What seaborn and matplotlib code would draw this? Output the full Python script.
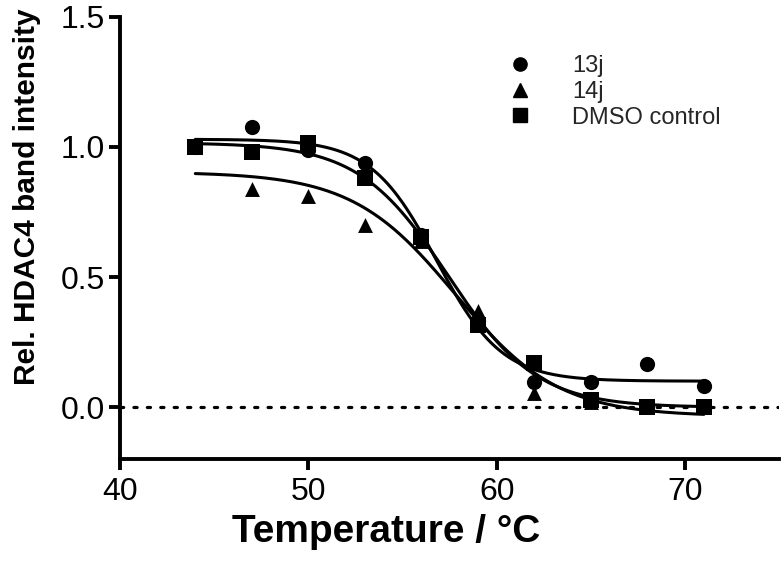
import numpy as np
import pandas as pd
import matplotlib
matplotlib.use("Agg")
import matplotlib.pyplot as plt
import seaborn as sns
from matplotlib.lines import Line2D
from matplotlib import font_manager as fm

# ---- data ----
temperatures = [44, 47, 50, 53, 56, 59, 62, 65, 68, 71]
series_names = ["13j", "14j", "DMSO control"]
values_13j = [1.00, 1.075, 0.99, 0.94, 0.66, 0.33, 0.095, 0.095, 0.165, 0.08]
values_14j = [1.00, 0.84, 0.81, 0.70, 0.64, 0.37, 0.055, 0.02, 0.0, 0.0]
values_dmso = [1.00, 0.98, 1.015, 0.88, 0.655, 0.315, 0.17, 0.027, 0.0, 0.0]
x_ticks = [40, 50, 60, 70]
y_ticks = [0.0, 0.5, 1.0, 1.5]

sns.set_theme(style="ticks")
plt.rcParams["font.family"] = ["Liberation Sans", "DejaVu Sans"]


def has_font(name):
    try:
        fm.findfont(fm.FontProperties(family=name), fallback_to_default=False)
        return True
    except Exception:
        return False


narrow = has_font("Liberation Sans Narrow")

rows = []
for name, vals in zip(series_names, [values_13j, values_14j, values_dmso]):
    for t, v in zip(temperatures, vals):
        rows.append({"Temperature": t, "Intensity": v, "Series": name})
df = pd.DataFrame(rows)


def boltzmann_fit(T, y):
    T = np.asarray(T, float)
    y = np.asarray(y, float)
    tm = np.arange(53.0, 62.0, 0.02)[:, None, None]
    sl = np.arange(0.4, 5.0, 0.02)[None, :, None]
    f = 1.0 / (1.0 + np.exp((T[None, None, :] - tm) / sl))
    fm_ = f.mean(-1, keepdims=True)
    ym = y.mean()
    span = ((f - fm_) * (y - ym)).sum(-1) / ((f - fm_) ** 2).sum(-1)
    bottom = ym - span * fm_[..., 0]
    pred = bottom[..., None] + span[..., None] * f
    sse = ((pred - y) ** 2).sum(-1)
    i, j = np.unravel_index(np.argmin(sse), sse.shape)
    return tm[i, 0, 0], sl[0, j, 0], bottom[i, j], span[i, j]


T_fine = np.linspace(min(temperatures), max(temperatures), 300)
curve_rows = []
for name, vals in zip(series_names, [values_13j, values_14j, values_dmso]):
    tm, s, b, sp = boltzmann_fit(temperatures, vals)
    yy = b + sp / (1.0 + np.exp((T_fine - tm) / s))
    for t, v in zip(T_fine, yy):
        curve_rows.append({"Temperature": t, "Intensity": v, "Series": name})
curves = pd.DataFrame(curve_rows)

fig = plt.figure(figsize=(7.84, 5.62), dpi=100)
ax = fig.add_axes([0.153, 0.183, 0.841, 0.787])

ax.axhline(0, color="black", lw=2.3, linestyle=(0, (1, 3.2)), dash_capstyle="round", zorder=1)

sns.lineplot(data=curves, x="Temperature", y="Intensity", units="Series", estimator=None,
             color="black", lw=2.2, ax=ax, legend=False, zorder=2)

markers = {"13j": "o", "14j": "^", "DMSO control": "s"}
sizes_map = {"13j": 120, "14j": 115, "DMSO control": 135}
for name in series_names:
    sub = df[df["Series"] == name]
    sns.scatterplot(data=sub, x="Temperature", y="Intensity", marker=markers[name],
                    color="black", s=sizes_map[name], edgecolor="black", linewidth=0,
                    ax=ax, legend=False, zorder=3)

ax.set_xlim(40, 75)
ax.set_ylim(-0.2, 1.5)
ax.set_xticks(x_ticks)
ax.set_yticks(y_ticks)
ax.set_yticklabels([f"{v:.1f}" for v in y_ticks])
ax.set_xticklabels([str(v) for v in x_ticks])

for side in ["top", "right"]:
    ax.spines[side].set_visible(False)
for side in ["left", "bottom"]:
    ax.spines[side].set_linewidth(2.8)
    ax.spines[side].set_color("black")
ax.tick_params(axis="both", which="major", length=8, width=2.8, color="black",
               labelsize=23, labelcolor="black")
ax.tick_params(axis="y", pad=3)
ax.tick_params(axis="x", pad=5)

ax.set_xlabel("Temperature / °C", fontsize=28, fontweight="bold", color="black")
ax.xaxis.set_label_coords(0.404, -0.125)
if narrow:
    ax.set_ylabel("Rel. HDAC4 band intensity", fontsize=26, fontweight="bold", color="black",
                  family=["Liberation Sans Narrow", "Liberation Sans", "DejaVu Sans"])
else:
    ax.set_ylabel("Rel. HDAC4 band intensity", fontsize=21.5, fontweight="bold", color="black")
ax.yaxis.set_label_coords(-0.12, 0.593)

handles = [Line2D([], [], marker=markers[n], color="black", linestyle="none", markersize=9.5)
           for n in series_names]
ax.legend(handles, series_names, loc="upper left", bbox_to_anchor=(0.557, 0.934), frameon=False,
          fontsize=17, handletextpad=1.2, labelspacing=0.15, borderaxespad=0)

fig.savefig("out.png", dpi=100)
